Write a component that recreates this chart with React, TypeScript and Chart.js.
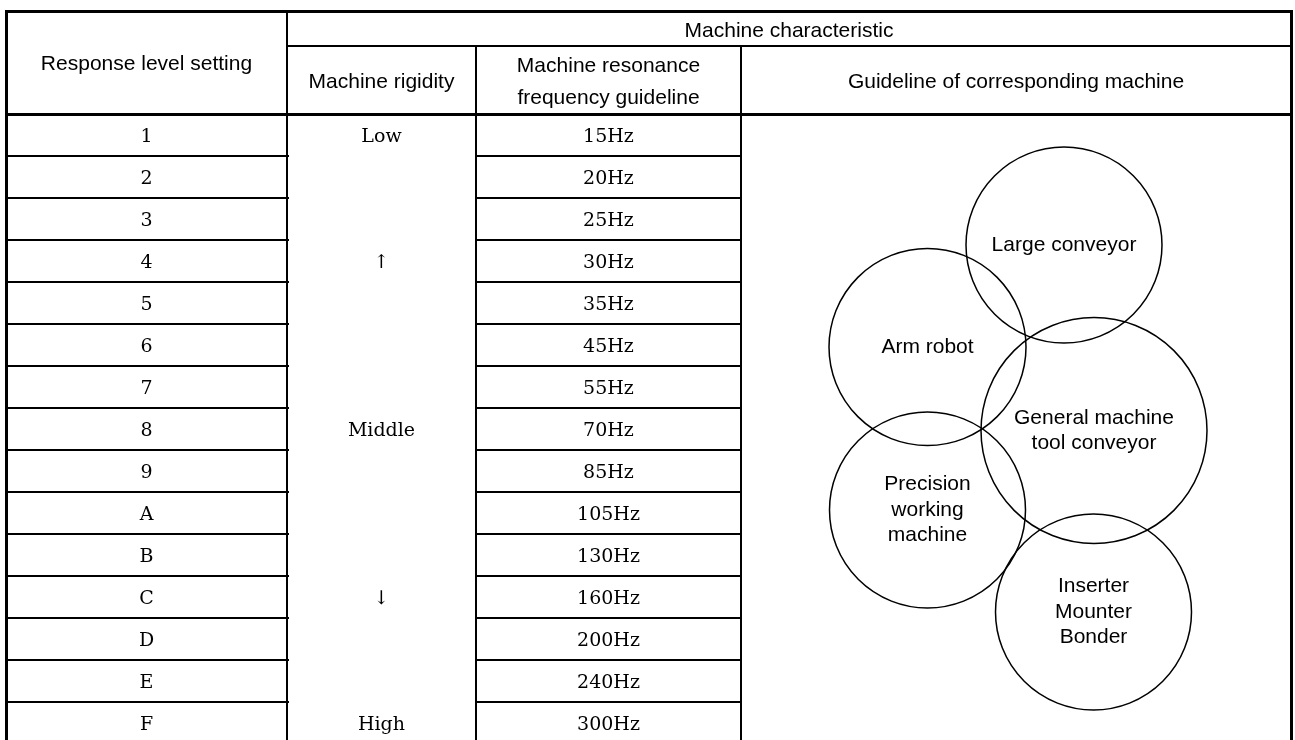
import React, { useEffect, useRef } from 'react';
import { Chart, registerables } from 'chart.js';

Chart.register(...registerables);

// ---- data ----
const levels = ['1', '2', '3', '4', '5', '6', '7', '8', '9', 'A', 'B', 'C', 'D', 'E', 'F'];
const rigidity = ['Low', '', '', '↑', '', '', '', 'Middle', '', '', '', '↓', '', '', 'High'];
const frequencyHz = [15, 20, 25, 30, 35, 45, 55, 70, 85, 105, 130, 160, 200, 240, 300];
const machineNames = [
  ['Large conveyor'],
  ['Arm robot'],
  ['General machine', 'tool conveyor'],
  ['Precision', 'working', 'machine'],
  ['Inserter', 'Mounter', 'Bonder'],
];
const levelHeader = ['Response level setting'];
const groupHeader = 'Machine characteristic';
const subHeaders = [['Machine rigidity'], ['Machine resonance', 'frequency guideline'], ['Guideline of corresponding machine']];

// ---- layout (not data) ----
const CANVAS_W = 1295;
const CANVAS_H = 740;
const TABLE_W = 1285;
const colEdges = [0, 281, 470, 735, TABLE_W]; // x-scale units
const headerTop = -2.452; // y-scale units (one data row = 1)
const headerMid = -1.619;
const yMax = 14.905;
const circleX = [1058, 921.5, 1088, 921.5, 1087.5];
const circleY = [3.119, 5.548, 7.536, 9.429, 11.857];
const circleR = [98, 98.5, 113, 98, 98];

const SANS = '"Liberation Sans", Arial, sans-serif';
const SERIF = '"DejaVu Serif", serif';

const tablePlugin = {
  id: 'tablePlugin',
  beforeDatasetsDraw(chart: any) {
    const { ctx } = chart;
    const xs = chart.scales.x;
    const ys = chart.scales.y;
    const X = (v: number) => Math.round(xs.getPixelForValue(v));
    const Y = (v: number) => Math.round(ys.getPixelForValue(v));
    const line = (x1: number, y1: number, x2: number, y2: number, w: number) => {
      ctx.save();
      ctx.strokeStyle = '#000';
      ctx.lineWidth = w;
      ctx.lineCap = 'butt';
      ctx.beginPath();
      const off = w % 2 === 1 ? 0.5 : 0;
      if (y1 === y2) {
        ctx.moveTo(x1, y1 + off);
        ctx.lineTo(x2, y2 + off);
      } else {
        ctx.moveTo(x1 + off, y1);
        ctx.lineTo(x2 + off, y2);
      }
      ctx.stroke();
      ctx.restore();
    };
    const bottom = Y(levels.length);
    const thick = 3;
    const thin = 2;
    // outer borders
    line(X(0) - 1, Y(headerTop), X(TABLE_W) + 2, Y(headerTop), thick);
    line(X(0), Y(headerTop), X(0), bottom, thick);
    line(X(TABLE_W), Y(headerTop), X(TABLE_W), bottom, thick);
    // header lines
    line(X(colEdges[1]), Y(headerMid), X(TABLE_W), Y(headerMid), thin);
    line(X(0), Y(0), X(TABLE_W), Y(0), 3);
    // vertical column lines
    line(X(colEdges[1]), Y(headerTop), X(colEdges[1]), bottom, thin);
    line(X(colEdges[2]), Y(headerMid), X(colEdges[2]), bottom, thin);
    line(X(colEdges[3]), Y(headerMid), X(colEdges[3]), bottom, thin);
    // row lines (level and frequency columns only)
    for (let i = 1; i < levels.length; i++) {
      line(X(colEdges[0]), Y(i), X(colEdges[1]) + 2, Y(i), thin);
      line(X(colEdges[2]), Y(i), X(colEdges[3]), Y(i), thin);
    }
  },
  afterDatasetsDraw(chart: any) {
    const { ctx } = chart;
    const xs = chart.scales.x;
    const ys = chart.scales.y;
    const X = (v: number) => xs.getPixelForValue(v);
    const Y = (v: number) => ys.getPixelForValue(v);
    const text = (s: string, x: number, y: number, font: string) => {
      ctx.save();
      ctx.fillStyle = '#000';
      ctx.font = font;
      ctx.textAlign = 'center';
      ctx.textBaseline = 'middle';
      ctx.fillText(s, x, y);
      ctx.restore();
    };
    const lines = (arr: string[], x: number, yc: number, gap: number, font: string) => {
      const start = yc - ((arr.length - 1) * gap) / 2;
      arr.forEach((s, k) => text(s, x, start + k * gap, font));
    };
    const mid = (a: number, b: number) => (X(colEdges[a]) + X(colEdges[b])) / 2;
    const headFont = `21px ${SANS}`;
    // headers
    lines(levelHeader, mid(0, 1), (Y(headerTop) + Y(0)) / 2 + 2, 32, headFont);
    text(groupHeader, mid(1, 4), (Y(headerTop) + Y(headerMid)) / 2 + 3, headFont);
    subHeaders.forEach((arr, k) => {
      lines(arr, mid(k + 1, k + 2), (Y(headerMid) + Y(0)) / 2 + 2, 32, headFont);
    });
    // body
    const bodyFont = `19px ${SERIF}`;
    levels.forEach((lv, i) => {
      const yc = Y(i + 0.5) + 2;
      text(lv, mid(0, 1), yc, bodyFont);
      if (rigidity[i]) text(rigidity[i], mid(1, 2), yc, bodyFont);
      text(`${frequencyHz[i]}Hz`, mid(2, 3), yc, bodyFont);
    });
    // circle labels
    const circleFont = `21px ${SANS}`;
    machineNames.forEach((arr, k) => {
      lines(arr, X(circleX[k]), Y(circleY[k]), 25.5, circleFont);
    });
  },
};

export default function App() {
  const ref = useRef<HTMLCanvasElement | null>(null);
  useEffect(() => {
    if (!ref.current) return;
    const chart = new Chart(ref.current, {
      type: 'bubble',
      data: {
        datasets: [
          {
            data: circleX.map((x, i) => ({ x, y: circleY[i], r: circleR[i] })),
            borderColor: '#000',
            borderWidth: 1.5,
            backgroundColor: 'rgba(0,0,0,0)',
            hoverRadius: 0,
            hoverBorderWidth: 1.5,
            clip: false as any,
          },
        ],
      },
      options: {
        responsive: false,
        animation: false,
        events: [],
        layout: {
          autoPadding: false,
          padding: { left: 6, right: CANVAS_W - 6 - TABLE_W, top: 11, bottom: 0 },
        },
        scales: {
          x: { type: 'linear', min: 0, max: TABLE_W, display: false },
          y: { type: 'linear', min: headerTop, max: yMax, reverse: true, display: false },
        },
        plugins: { legend: { display: false }, tooltip: { enabled: false } },
      },
      plugins: [tablePlugin],
    });
    return () => chart.destroy();
  }, []);
  return (
    <div style={{ position: 'absolute', left: 0, top: 0, width: CANVAS_W, height: CANVAS_H, background: '#fff' }}>
      <canvas ref={ref} width={CANVAS_W} height={CANVAS_H} style={{ display: 'block', width: CANVAS_W, height: CANVAS_H }} />
    </div>
  );
}
